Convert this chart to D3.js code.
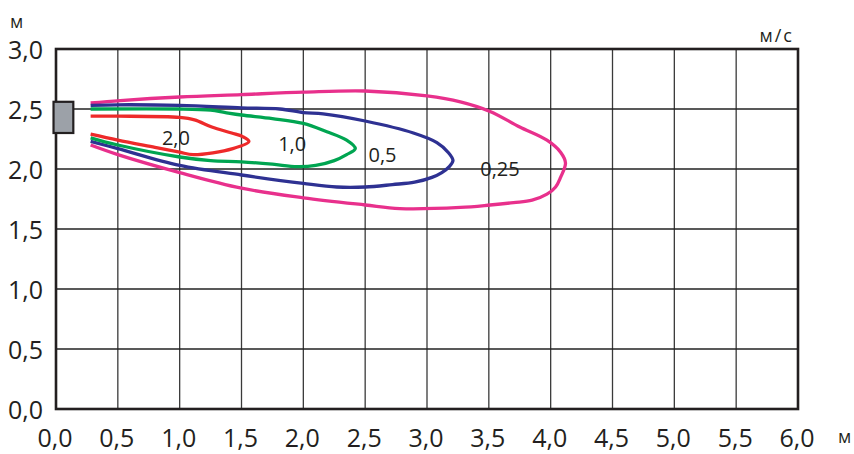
<!DOCTYPE html>
<html><head><meta charset="utf-8">
<script src="https://cdn.jsdelivr.net/npm/d3@7"></script>
<style>
html,body{margin:0;padding:0;background:#fff;}
svg{display:block;font-family:"Open Sans",sans-serif;}
</style></head>
<body><svg id="c" width="854" height="454"></svg>
<script>
// ---- data ----
const xTickValues = [0,0.5,1,1.5,2,2.5,3,3.5,4,4.5,5,5.5,6];
const xTickLabels = ["0,0","0,5","1,0","1,5","2,0","2,5","3,0","3,5","4,0","4,5","5,0","5,5","6,0"];
const yTickValues = [0,0.5,1,1.5,2,2.5,3];
const yTickLabels = ["0,0","0,5","1,0","1,5","2,0","2,5","3,0"];

const contourLevels = ["0,25","0,5","1,0","2,0"];
const contourColors = ["#e8308c","#2e3192","#00a551","#ee2a2a"];

const contour025 = [[0.28,2.55],[0.52,2.57],[1.0,2.60],[1.5,2.62],[2.0,2.64],[2.5,2.65],[3.0,2.61],[3.27,2.56],[3.51,2.48],[3.75,2.35],[3.97,2.24],[4.08,2.14],[4.12,2.05],[4.08,1.93],[4.04,1.85],[3.97,1.79],[3.85,1.74],[3.7,1.72],[3.51,1.70],[3.27,1.68],[2.78,1.67],[2.5,1.70],[2.0,1.76],[1.5,1.84],[1.0,1.97],[0.5,2.12],[0.28,2.20]];
const contour05 = [[0.28,2.53],[0.5,2.535],[1.0,2.53],[1.5,2.51],[1.81,2.50],[2.0,2.47],[2.16,2.46],[2.5,2.40],[2.89,2.30],[3.08,2.22],[3.17,2.14],[3.21,2.07],[3.18,2.02],[3.12,1.97],[3.04,1.93],[2.9,1.89],[2.72,1.87],[2.5,1.85],[2.27,1.85],[2.0,1.88],[1.5,1.95],[1.0,2.03],[0.5,2.17],[0.28,2.23]];
const contour10 = [[0.28,2.50],[1.0,2.50],[1.25,2.49],[1.37,2.47],[1.5,2.45],[1.75,2.42],[2.0,2.38],[2.19,2.31],[2.35,2.24],[2.42,2.17],[2.35,2.12],[2.25,2.07],[2.1,2.03],[1.95,2.02],[1.75,2.04],[1.5,2.06],[1.25,2.07],[1.0,2.10],[0.5,2.20],[0.28,2.26]];
const contour20 = [[0.28,2.44],[0.5,2.44],[1.0,2.43],[1.12,2.41],[1.26,2.35],[1.42,2.30],[1.51,2.27],[1.56,2.23],[1.43,2.17],[1.11,2.12],[1.0,2.14],[0.8,2.18],[0.5,2.24],[0.28,2.29]];
const contours = [contour025, contour05, contour10, contour20];

// label anchor points (data units)
const labelX = [3.59, 2.64, 1.91, 0.97];
const labelY = [2.00, 2.12, 2.21, 2.26];

// nozzle (source) box
const nozzle = {x0:-0.02, x1:0.14, y0:2.30, y1:2.56};

// ---- chart ----
const svg = d3.select("#c");
const x = d3.scaleLinear().domain([0,6]).range([56,798]);
const y = d3.scaleLinear().domain([0,3]).range([409,49]);

// grid
svg.append("g").selectAll("line").data(xTickValues).join("line")
  .attr("x1",d=>x(d)).attr("x2",d=>x(d)).attr("y1",y(0)).attr("y2",y(3))
  .attr("stroke","#3a3a3a").attr("stroke-width",1.3);
svg.append("g").selectAll("line").data(yTickValues).join("line")
  .attr("x1",x(0)).attr("x2",x(6)).attr("y1",d=>y(d)).attr("y2",d=>y(d))
  .attr("stroke","#222").attr("stroke-width",1.4);
// frame
svg.append("rect").attr("x",x(0)).attr("y",y(3)).attr("width",x(6)-x(0)).attr("height",y(0)-y(3))
  .attr("fill","none").attr("stroke","#231f20").attr("stroke-width",2.6);

// tick labels
svg.append("g").selectAll("text").data(xTickValues).join("text")
  .attr("x",d=>x(d)-1).attr("y",447).attr("text-anchor","middle")
  .attr("font-size",25).attr("fill","#231f20").text((d,i)=>xTickLabels[i]);
svg.append("g").selectAll("text").data(yTickValues).join("text")
  .attr("x",43).attr("y",d=>y(d)+10).attr("text-anchor","end")
  .attr("font-size",25).attr("fill","#231f20").text((d,i)=>yTickLabels[i]);

// units
svg.append("text").attr("x",10).attr("y",28).attr("font-size",18).attr("fill","#231f20").text("м");
svg.append("text").attr("x",838).attr("y",443).attr("font-size",18).attr("fill","#231f20").text("м");
svg.append("text").attr("x",794).attr("y",42).attr("text-anchor","end").attr("font-size",18)
  .attr("letter-spacing",2).attr("fill","#231f20").text("м/с");

// contours
const line = d3.line().x(d=>x(d[0])).y(d=>y(d[1])).curve(d3.curveCatmullRom.alpha(0.5));
svg.append("g").selectAll("path").data(contours).join("path")
  .attr("d",line).attr("fill","none")
  .attr("stroke",(d,i)=>contourColors[i]).attr("stroke-width",3.3)
  .attr("stroke-linejoin","round");

// contour labels
svg.append("g").selectAll("text").data(contourLevels).join("text")
  .attr("x",(d,i)=>x(labelX[i])).attr("y",(d,i)=>y(labelY[i])).attr("dy","0.36em")
  .attr("text-anchor","middle").attr("font-size",20).attr("fill","#231f20").text(d=>d);

// nozzle box
svg.append("rect").attr("x",x(nozzle.x0)).attr("y",y(nozzle.y1))
  .attr("width",x(nozzle.x1)-x(nozzle.x0)).attr("height",y(nozzle.y0)-y(nozzle.y1))
  .attr("fill","#9ca1a8").attr("stroke","#231f20").attr("stroke-width",2.2);
</script></body></html>
